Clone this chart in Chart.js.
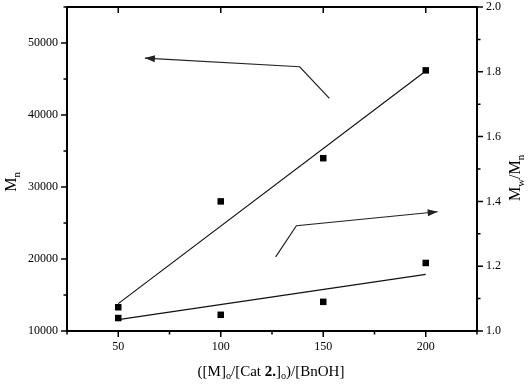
<!DOCTYPE html>
<html>
<head>
<meta charset="utf-8">
<script src="https://cdn.jsdelivr.net/npm/chart.js@4"></script>
<style>
  body { margin: 0; background: #fff; }
  #wrap { width: 529px; height: 387px; }
</style>
</head>
<body>
<div id="wrap"><canvas id="myChart"></canvas></div>
<script>
// values
const ratios = [50, 100, 150, 200]
const mnValues = [13300, 28000, 34000, 46200]
const pdiValues = [1.04, 1.05, 1.09, 1.21]
// fitted lines (ends as drawn in the picture)
const fitX = [50, 200]
const mnFit = [13800, 46100]
const pdiFit = [1.035, 1.175]
// ticks
const xTicks = [50, 100, 150, 200]
const xMinor = [25, 75, 125, 175, 225]
const mnTicks = [10000, 20000, 30000, 40000, 50000]
const mnMinor = [15000, 25000, 35000, 45000, 55000]
const pdiTicks = [1.0, 1.2, 1.4, 1.6, 1.8, 2.0]
const pdiMinor = [1.1, 1.3, 1.5, 1.7, 1.9]

// annotation arrows, in data units: [x, y] points, last one is the head
const arrowMn = [[153, 42300], [138.5, 46700], [63, 47900]]
const arrowPdi = [[126.8, 1.229], [136.9, 1.325], [205.8, 1.368]]

const serif = '"Liberation Serif", "Times New Roman", serif'

function pts(xs, ys) {
  return xs.map((x, i) => ({x: x, y: ys[i]}))
}

function richWidth(ctx, parts, size) {
  let w = 0
  for (const p of parts) {
    const s = p.sub ? size * 0.68 : size
    ctx.font = (p.bold ? 'bold ' : '') + s + 'px ' + serif
    w += ctx.measureText(p.t).width
  }
  return w
}

function drawRich(ctx, parts, size, cx, cy, rot) {
  ctx.save()
  ctx.translate(cx, cy)
  if (rot) ctx.rotate(rot)
  const w = richWidth(ctx, parts, size)
  let x = -w / 2
  ctx.fillStyle = '#000'
  ctx.textBaseline = 'middle'
  ctx.textAlign = 'left'
  for (const p of parts) {
    const s = p.sub ? size * 0.68 : size
    ctx.font = (p.bold ? 'bold ' : '') + s + 'px ' + serif
    ctx.fillText(p.t, x, p.sub ? size * 0.32 : 0)
    x += ctx.measureText(p.t).width
  }
  ctx.restore()
}

function drawArrow(ctx, chart, list, yId) {
  const xs = chart.scales.x, ys = chart.scales[yId]
  const p = list.map(a => [xs.getPixelForValue(a[0]), ys.getPixelForValue(a[1])])
  ctx.save()
  ctx.strokeStyle = '#222'
  ctx.fillStyle = '#222'
  ctx.lineWidth = 1.2
  ctx.beginPath()
  ctx.moveTo(p[0][0], p[0][1])
  for (let i = 1; i < p.length; i++) ctx.lineTo(p[i][0], p[i][1])
  ctx.stroke()
  const a = p[p.length - 2], b = p[p.length - 1]
  const ang = Math.atan2(b[1] - a[1], b[0] - a[0])
  ctx.translate(b[0], b[1])
  ctx.rotate(ang)
  ctx.beginPath()
  ctx.moveTo(0, 0)
  ctx.lineTo(-10, -3.5)
  ctx.lineTo(-10, 3.5)
  ctx.closePath()
  ctx.fill()
  ctx.restore()
}

const extras = {
  id: 'extras',
  afterDraw(chart) {
    const ctx = chart.ctx
    const area = chart.chartArea
    const xs = chart.scales.x, y = chart.scales.y, y1 = chart.scales.y1
    ctx.save()
    ctx.strokeStyle = '#000'
    ctx.lineWidth = 2
    // top frame
    ctx.beginPath()
    ctx.moveTo(area.left - 1, area.top)
    ctx.lineTo(area.right + 1, area.top)
    ctx.stroke()
    ctx.lineWidth = 1.5
    ctx.beginPath()
    for (const v of xTicks) {
      const px = xs.getPixelForValue(v)
      ctx.moveTo(px, area.bottom); ctx.lineTo(px, area.bottom + 6)
      ctx.moveTo(px, area.top); ctx.lineTo(px, area.top + 6)
    }
    for (const v of xMinor) {
      const px = xs.getPixelForValue(v)
      ctx.moveTo(px, area.bottom); ctx.lineTo(px, area.bottom + 3.5)
    }
    for (const v of mnTicks) {
      const py = y.getPixelForValue(v)
      ctx.moveTo(area.left, py); ctx.lineTo(area.left - 6, py)
    }
    for (const v of mnMinor) {
      const py = y.getPixelForValue(v)
      ctx.moveTo(area.left, py); ctx.lineTo(area.left - 3.5, py)
    }
    for (const v of pdiTicks) {
      const py = y1.getPixelForValue(v)
      ctx.moveTo(area.right, py); ctx.lineTo(area.right + 6, py)
    }
    for (const v of pdiMinor) {
      const py = y1.getPixelForValue(v)
      ctx.moveTo(area.right, py); ctx.lineTo(area.right + 3.5, py)
    }
    ctx.stroke()
    ctx.restore()

    drawArrow(ctx, chart, arrowMn, 'y')
    drawArrow(ctx, chart, arrowPdi, 'y1')

    // axis titles with subscripts
    drawRich(ctx, [{t: 'M'}, {t: 'n', sub: true}], 16, 12, 182, -Math.PI / 2)
    drawRich(ctx, [{t: 'M'}, {t: 'w', sub: true}, {t: '/M'}, {t: 'n', sub: true}], 16, 516, 178, -Math.PI / 2)
    drawRich(ctx, [
      {t: '([M]'}, {t: 'o', sub: true}, {t: '/[Cat '}, {t: '2.', bold: true},
      {t: ']'}, {t: 'o', sub: true}, {t: ')/[BnOH]'}
    ], 15, 271, 372, 0)
  }
}

const chart = new Chart('myChart', {
  type: 'scatter',
  data: {
    datasets: [
      {
        data: pts(ratios, mnValues), yAxisID: 'y',
        pointStyle: 'rect', pointRadius: 4.6, backgroundColor: '#000', borderColor: '#000', borderWidth: 0
      },
      {
        data: pts(ratios, pdiValues), yAxisID: 'y1',
        pointStyle: 'rect', pointRadius: 4.6, backgroundColor: '#000', borderColor: '#000', borderWidth: 0
      },
      {
        data: pts(fitX, mnFit), yAxisID: 'y', showLine: true,
        pointRadius: 0, borderColor: '#111', borderWidth: 1.2
      },
      {
        data: pts(fitX, pdiFit), yAxisID: 'y1', showLine: true,
        pointRadius: 0, borderColor: '#111', borderWidth: 1.2
      }
    ]
  },
  options: {
    responsive: true,
    maintainAspectRatio: false,
    animation: false,
    layout: {padding: {top: 7, left: 0, right: 0, bottom: 0}},
    plugins: {legend: {display: false}, tooltip: {enabled: false}},
    scales: {
      x: {
        type: 'linear', position: 'bottom', min: 25, max: 225,
        grid: {display: false, drawTicks: false},
        border: {display: true, color: '#000', width: 2},
        afterBuildTicks: s => { s.ticks = xTicks.map(v => ({value: v})) },
        afterFit: s => { s.height = 56; s.paddingLeft = 0; s.paddingRight = 0 },
        ticks: {padding: 9, color: '#000', font: {family: serif, size: 12}, callback: v => String(v)}
      },
      y: {
        type: 'linear', position: 'left', min: 10000, max: 55000,
        grid: {display: false, drawTicks: false},
        border: {display: true, color: '#000', width: 2},
        afterBuildTicks: s => { s.ticks = mnTicks.map(v => ({value: v})) },
        afterFit: s => { s.width = 67; s.paddingTop = 0; s.paddingBottom = 0 },
        ticks: {padding: 9, color: '#000', font: {family: serif, size: 12}, callback: v => String(v)}
      },
      y1: {
        type: 'linear', position: 'right', min: 1.0, max: 2.0,
        grid: {display: false, drawTicks: false},
        border: {display: true, color: '#000', width: 2},
        afterBuildTicks: s => { s.ticks = pdiTicks.map(v => ({value: v})) },
        afterFit: s => { s.width = 52; s.paddingTop = 0; s.paddingBottom = 0 },
        ticks: {
          padding: 9, color: '#000', font: {family: serif, size: 12},
          callback: v => v.toFixed(1)
        }
      }
    }
  },
  plugins: [extras]
})
</script>
</body>
</html>
